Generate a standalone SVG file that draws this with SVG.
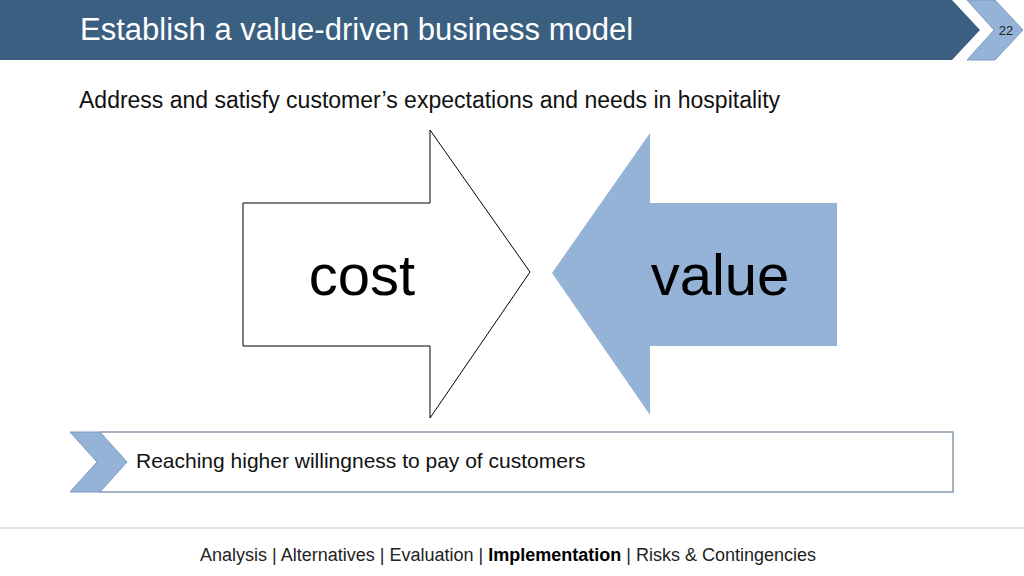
<svg xmlns="http://www.w3.org/2000/svg" width="1024" height="576" viewBox="0 0 1024 576">
<style>
text{font-family:"Liberation Sans",Arial,sans-serif}
.lt{fill:#95b3d7;stroke:#7f9cc0;stroke-width:1}
</style>
<rect width="1024" height="576" fill="#fff"/>
<g id="header">
<polygon points="0,0 952,0 980,30 952,60 0,60" fill="#3a5f80"/>
<text x="80" y="40" font-size="31" fill="#fff">Establish a value-driven business model</text>
</g>
<g id="page">
<polygon class="lt" points="967,0 995,0 1023,30 995,60 967,60 994,30"/>
<text x="1006" y="35" font-size="13" fill="#222" text-anchor="middle">22</text>
</g>
<text x="79" y="108" font-size="23" fill="#111">Address and satisfy customer’s expectations and needs in hospitality</text>
<g id="cost">
<polygon points="243,203 430,203 430,130 530,272 430,418 430,346 243,346" fill="#fff" stroke="#000" stroke-width="1"/>
<text x="362" y="295" font-size="58" text-anchor="middle" fill="#000">cost</text>
</g>
<g id="value">
<polygon points="837,203 650,203 650,133 552,273 650,415 650,346 837,346" fill="#95b3d7"/>
<text x="720" y="295" font-size="58" text-anchor="middle" fill="#000">value</text>
</g>
<g id="banner">
<rect x="100" y="432" width="853" height="60" fill="#fff" stroke="#8a9bb0" stroke-width="1.5"/>
<polygon class="lt" points="70,432 100,432 127,462 100,492 70,492 97,462"/>
<text x="136" y="468" font-size="21" fill="#111">Reaching higher willingness to pay of customers</text>
</g>
<line x1="0" y1="528" x2="1024" y2="528" stroke="#b8c4d0" stroke-width="1"/>
<text x="508" y="561" font-size="18" text-anchor="middle" fill="#222">Analysis | Alternatives | Evaluation | <tspan font-weight="bold" fill="#000">Implementation</tspan> | Risks &amp; Contingencies</text>
</svg>
